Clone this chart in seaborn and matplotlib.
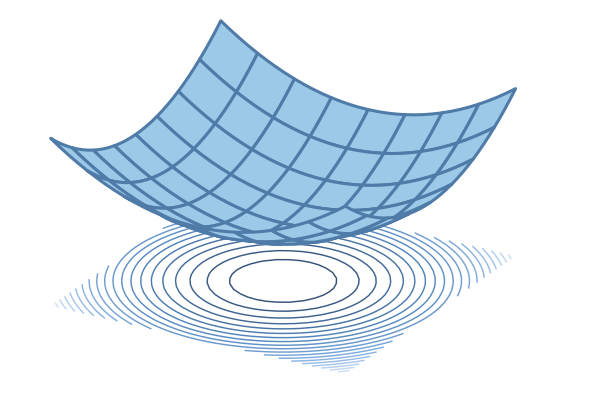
import matplotlib
matplotlib.use("Agg")
import matplotlib.pyplot as plt
import numpy as np
import seaborn as sns

# Height of the bowl along one axis.
# The full surface is the sum of this profile along x and along y.
axis_values = [-1.0, -0.9375, -0.875, -0.8125, -0.75, -0.6875, -0.625, -0.5625, -0.5, -0.4375, -0.375,
               -0.3125, -0.25, -0.1875, -0.125, -0.0625, 0.0, 0.0625, 0.125, 0.1875, 0.25, 0.3125,
               0.375, 0.4375, 0.5, 0.5625, 0.625, 0.6875, 0.75, 0.8125, 0.875, 0.9375, 1.0]
profile_values = [1.0, 0.8789, 0.7656, 0.6602, 0.5625, 0.4727, 0.3906, 0.3164, 0.25, 0.1914, 0.1406,
                  0.0977, 0.0625, 0.0352, 0.0156, 0.0039, 0.0, 0.0039, 0.0156, 0.0352, 0.0625, 0.0977,
                  0.1406, 0.1914, 0.25, 0.3164, 0.3906, 0.4727, 0.5625, 0.6602, 0.7656, 0.8789, 1.0]
contour_levels = [0.1, 0.2, 0.3, 0.4, 0.5, 0.6, 0.7, 0.8, 0.9, 1.0,
                  1.1, 1.2, 1.3, 1.4, 1.5, 1.6, 1.7, 1.8, 1.9]

FLOOR = -1.05
TOP = 2.0

sns.set_theme(style="white")

x, y = np.meshgrid(axis_values, axis_values)
z = np.add.outer(profile_values, profile_values)
contour_colors = sns.blend_palette(["#34527a", "#5285bb", "#7fabdf", "#cfe0f5"], len(contour_levels))

fig = plt.figure(figsize=(5.89, 4.03), dpi=100)
ax = fig.add_subplot(111, projection="3d", computed_zorder=False)
ax.set_proj_type("ortho")
ax.view_init(elev=23.5, azim=30)

side = 600
ax.set_position([(275 - side / 2) / 589, (403 - 205.3 - side / 2) / 403, side / 589, side / 403])
ax.set_xlim(-1, 1)
ax.set_ylim(-1, 1)
ax.set_zlim(FLOOR, TOP)
ax.set_box_aspect((337.8, 337.8, 181.2), zoom=0.833)

ax.contour(x, y, z, levels=contour_levels, colors=contour_colors, zdir="z", offset=FLOOR,
           linewidths=1.05, zorder=1)
ax.plot_surface(x, y, z, rstride=4, cstride=4, color="#9dc9e8", edgecolor="#4f7ba8",
                linewidth=2.2, shade=False, zorder=2)
ax.set_axis_off()

fig.savefig("out.png", dpi=100)
